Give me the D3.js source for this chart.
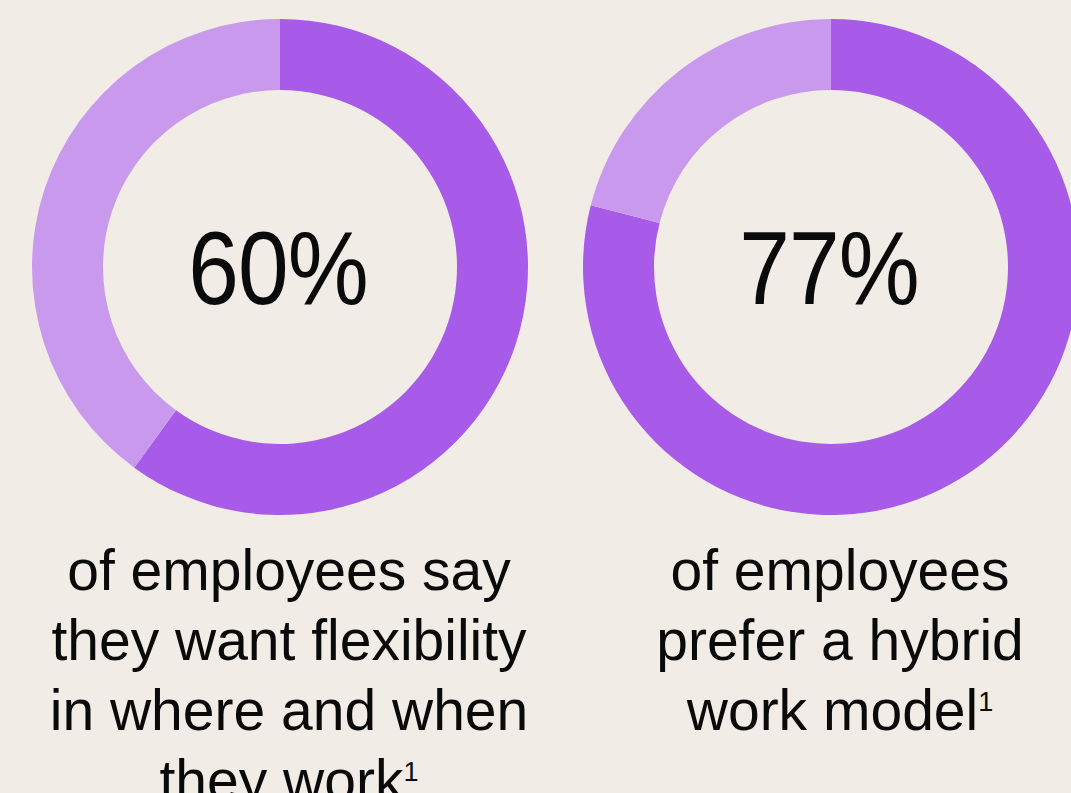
<!DOCTYPE html>
<html>
<head>
<meta charset="utf-8">
<script src="https://cdn.jsdelivr.net/npm/d3@7/dist/d3.min.js"></script>
<style>
  html, body { margin: 0; padding: 0; background: #f1ece5; overflow: hidden; }
  svg { display: block; }
</style>
</head>
<body>
<svg id="chart" width="1071" height="793"></svg>
<script>
// ---- data ----
const statLabels = ["60%", "77%"];
const shareValues = [60, 79];            // filled share of each ring as drawn
const restValues = shareValues.map(v => 100 - v);
const captionLines = [
  ["of employees say", "they want flexibility", "in where and when", "they work"],
  ["of employees", "prefer a hybrid", "work model"]
];
const footnoteMarks = ["1", "1"];

// ---- layout ----
const W = 1071, H = 793;
const colors = { filled: "#a85ae9", rest: "#c999ee", bg: "#f1ece5", text: "#0a0a0a" };
const svg = d3.select("#chart");
svg.append("rect").attr("width", W).attr("height", H).attr("fill", colors.bg);

const centerX = d3.scalePoint().domain(d3.range(statLabels.length)).range([280, 831]);
const cy = 267;
const outerR = 248, innerR = 177;

const pie = d3.pie().sort(null).value(d => d.v);
const arc = d3.arc().innerRadius(innerR).outerRadius(outerR);

statLabels.forEach((lab, i) => {
  const g = svg.append("g").attr("transform", `translate(${centerX(i)},${cy})`);
  const parts = [{ k: "filled", v: shareValues[i] }, { k: "rest", v: restValues[i] }];
  g.selectAll("path").data(pie(parts)).join("path")
    .attr("d", arc)
    .attr("fill", d => colors[d.data.k]);

  g.append("text")
    .attr("transform", "translate(-2,37) scale(0.875,1)")
    .attr("text-anchor", "middle")
    .attr("font-family", "'Liberation Sans', Arial, sans-serif")
    .attr("font-size", 104)
    .attr("letter-spacing", -1)
    .attr("fill", colors.text)
    .text(lab);

  const cap = svg.append("text")
    .attr("text-anchor", "middle")
    .attr("font-family", "'Liberation Sans', Arial, sans-serif")
    .attr("font-size", 57)
    .attr("fill", colors.text);
  const lines = captionLines[i];
  lines.forEach((ln, j) => {
    cap.append("tspan")
      .attr("x", centerX(i) + 9)
      .attr("y", 590 + j * 70)
      .text(ln);
    if (j === lines.length - 1) {
      cap.append("tspan")
        .attr("dy", -19)
        .attr("font-size", 27)
        .text(footnoteMarks[i]);
    }
  });
});
</script>
</body>
</html>
